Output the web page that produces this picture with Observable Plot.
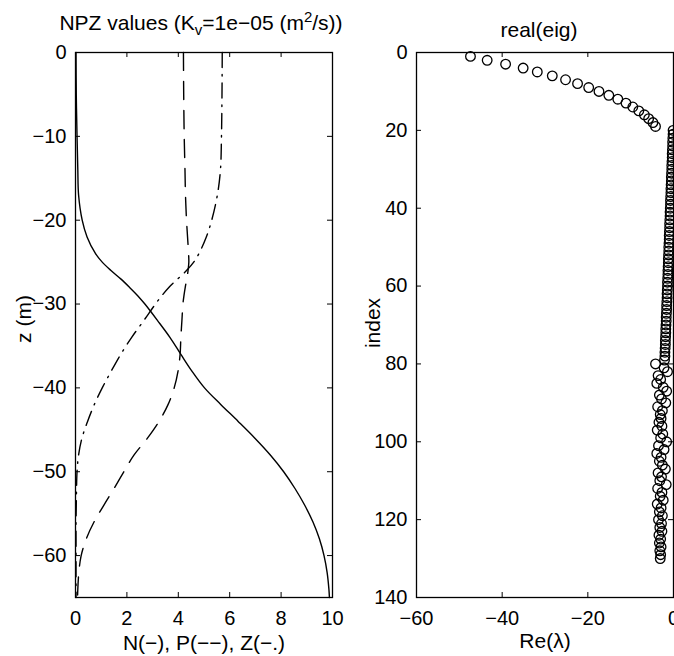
<!DOCTYPE html>
<html>
<head>
<meta charset="utf-8">
<script src="https://cdn.jsdelivr.net/npm/d3@7"></script>
<script src="https://cdn.jsdelivr.net/npm/@observablehq/plot@0.6"></script>
<style>
html, body { margin: 0; padding: 0; background: #fff; }
#wrap { position: relative; width: 674px; height: 656px; overflow: hidden; background: #fff; }
#wrap svg { position: absolute; top: 0; }
</style>
</head>
<body>
<div id="wrap"></div>
<script>
// ---------- data ----------
const depth     = [0, -5, -10, -14, -17, -20, -22, -24, -25, -26, -27, -28, -29, -30, -32, -34, -36, -38, -40, -42, -44, -46, -48, -50, -52, -54, -56, -58, -60, -62, -64, -65];
const nutrient  = [0.02, 0.03, 0.06, 0.09, 0.12, 0.26, 0.45, 0.78, 1.04, 1.38, 1.76, 2.10, 2.42, 2.70, 3.20, 3.68, 4.10, 4.53, 5.02, 5.66, 6.33, 6.98, 7.58, 8.10, 8.54, 8.92, 9.24, 9.49, 9.67, 9.79, 9.86, 9.88];
const phyto     = [4.20, 4.21, 4.23, 4.26, 4.28, 4.32, 4.36, 4.40, 4.41, 4.38, 4.33, 4.27, 4.22, 4.18, 4.14, 4.10, 4.07, 3.99, 3.84, 3.60, 3.25, 2.80, 2.28, 1.88, 1.50, 1.10, 0.72, 0.42, 0.22, 0.13, 0.09, 0.08];
const zoo       = [5.71, 5.70, 5.68, 5.64, 5.52, 5.30, 5.09, 4.80, 4.60, 4.32, 3.98, 3.64, 3.36, 3.11, 2.65, 2.18, 1.76, 1.39, 1.04, 0.73, 0.47, 0.25, 0.12, 0.06, 0.04, 0.03, 0.02, 0.02, 0.02, 0.02, 0.02, 0.02];

const eigReal = [
  -47.4, -43.5, -39.2, -35.1, -31.8, -28.3, -25.2, -22.4, -19.8, -17.4,
  -15.1, -13.0, -11.1, -9.5, -8.1, -6.8, -5.8, -4.8, -4.2, -0.1,
  -0.1, -0.15, -0.2, -0.2, -0.25, -0.3, -0.3, -0.35, -0.4, -0.4,
  -0.45, -0.5, -0.5, -0.55, -0.6, -0.6, -0.65, -0.7, -0.7, -0.75,
  -0.8, -0.8, -0.85, -0.9, -0.9, -0.95, -1.0, -1.0, -1.05, -1.1,
  -1.1, -1.15, -1.2, -1.2, -1.25, -1.3, -1.3, -1.35, -1.4, -1.4,
  -1.45, -1.5, -1.5, -1.55, -1.6, -1.6, -1.65, -1.7, -1.7, -1.75,
  -1.8, -1.8, -1.85, -1.9, -1.9, -1.95, -2.0, -2.0, -2.1, -4.2,
  -2.2, -1.4, -3.6, -3.0, -3.9, -2.4, -1.6, -3.3, -2.8, -1.8,
  -3.7, -2.6, -3.1, -2.9, -3.4, -2.7, -3.8, -2.5, -3.0, -1.6,
  -3.5, -2.2, -3.9, -2.9, -3.3, -2.6, -1.9, -3.6, -2.8, -3.2,
  -1.7, -3.7, -2.7, -3.1, -2.4, -3.8, -2.9, -3.3, -2.6, -3.5,
  -2.8, -3.2, -2.7, -3.4, -3.0, -3.3, -2.9, -3.2, -3.0, -3.1
];
const eigIndex = eigReal.map((_, i) => i + 1);

const xTicksLeft  = [0, 2, 4, 6, 8, 10];
const yTicksLeft  = [-60, -50, -40, -30, -20, -10, 0];
const xTicksRight = [-60, -40, -20, 0];
const yTicksRight = [0, 20, 40, 60, 80, 100, 120, 140];

const titleLeftParts = [
  {t: "NPZ values (K"}, {t: "v", sub: true}, {t: "=1e−05 (m"}, {t: "2", sup: true}, {t: "/s))"}
];
const titleLeft  = titleLeftParts.map(p => p.t).join("");
const titleRight = "real(eig)";
const xLabelLeft = "N(−), P(−−), Z(−.)";
const yLabelLeft = "z (m)";
const xLabelRight = "Re(λ)";
const yLabelRight = "index";

// ---------- drawing ----------
const FONT = "'Liberation Sans', Arial, Helvetica, sans-serif";
const style = {fontFamily: FONT, fontSize: "20px", color: "black", background: "transparent", overflow: "visible"};
const FH = 545, FW = 257, TK = 5;
const LBL = {textAnchor: "middle", lineAnchor: "middle", fontSize: 21, fill: "black"};

const profile = depth.map((z, i) => ({z, N: nutrient[i], P: phyto[i], Z: zoo[i]}));
const eig = eigIndex.map((k, i) => ({k, re: eigReal[i]}));

function tickMarks(xt, yt) {
  return [
    Plot.ruleX(xt, {x: d => d, insetTop: FH - TK, stroke: "black", strokeWidth: 1}),
    Plot.ruleX(xt, {x: d => d, insetBottom: FH - TK, stroke: "black", strokeWidth: 1}),
    Plot.ruleY(yt, {y: d => d, insetRight: FW - TK, stroke: "black", strokeWidth: 1}),
    Plot.ruleY(yt, {y: d => d, insetLeft: FW - TK, stroke: "black", strokeWidth: 1})
  ];
}

const left = Plot.plot({
  width: 345, height: 656,
  marginLeft: 75, marginRight: 13, marginTop: 52, marginBottom: 59,
  x: {domain: [0, 10]},
  y: {domain: [-65, 0]},
  style,
  marks: [
    ...tickMarks(xTicksLeft, yTicksLeft),
    Plot.frame({stroke: "black", strokeWidth: 1.3}),
    Plot.axisX(xTicksLeft, {anchor: "bottom", tickSize: 0, tickPadding: 13, label: null}),
    Plot.axisY(yTicksLeft, {anchor: "left", tickSize: 0, tickPadding: 9, label: null}),
    Plot.line(profile, {x: "N", y: "z", curve: "catmull-rom", stroke: "black", strokeWidth: 1.4}),
    Plot.line(profile, {x: "P", y: "z", curve: "catmull-rom", stroke: "black", strokeWidth: 1.4, strokeDasharray: "18,11"}),
    Plot.line(profile, {x: "Z", y: "z", curve: "catmull-rom", stroke: "black", strokeWidth: 1.4, strokeDasharray: "15,7,1.5,7"}),
    Plot.text([titleLeft], {...LBL, text: d => d, frameAnchor: "top", dx: -3, dy: -29}),
    Plot.text([xLabelLeft], {...LBL, text: d => d, frameAnchor: "bottom", dy: 45.5}),
    Plot.text([yLabelLeft], {...LBL, text: d => d, frameAnchor: "left", dx: -51.5, dy: -6, rotate: -90})
  ]
});

const right = Plot.plot({
  width: 400, height: 656,
  marginLeft: 71, marginRight: 72, marginTop: 52, marginBottom: 59,
  x: {domain: [-60, 0]},
  y: {domain: [0, 140], reverse: true},
  style,
  marks: [
    ...tickMarks(xTicksRight, yTicksRight),
    Plot.frame({stroke: "black", strokeWidth: 1.3}),
    Plot.axisX(xTicksRight, {anchor: "bottom", tickSize: 0, tickPadding: 13, label: null}),
    Plot.axisY(yTicksRight, {anchor: "left", tickSize: 0, tickPadding: 9, label: null}),
    Plot.dot(eig, {x: "re", y: "k", r: 4.8, stroke: "black", strokeWidth: 1.3, fill: "none"}),
    Plot.text([titleRight], {...LBL, text: d => d, frameAnchor: "top", dx: -6, dy: -22.5}),
    Plot.text([xLabelRight], {...LBL, text: d => d, frameAnchor: "bottom", dy: 44}),
    Plot.text([yLabelRight], {...LBL, text: d => d, frameAnchor: "left", dx: -43, dy: -2, rotate: -90})
  ]
});

const wrap = document.getElementById("wrap");
left.style.left = "0px";
right.style.left = "345px";
wrap.appendChild(left);
wrap.appendChild(right);

// rich text for the left title (subscript v, superscript 2)
d3.select(left).selectAll("text")
  .filter(function () { return this.textContent === titleLeft; })
  .each(function () {
    const el = d3.select(this);
    el.text(null);
    let shift = 0;
    for (const p of titleLeftParts) {
      const ts = el.append("tspan").text(p.t);
      const target = p.sub ? 5 : p.sup ? -8 : 0;
      ts.attr("dy", target - shift);
      shift = target;
      if (p.sub || p.sup) ts.attr("font-size", 15);
    }
  });
</script>
</body>
</html>
